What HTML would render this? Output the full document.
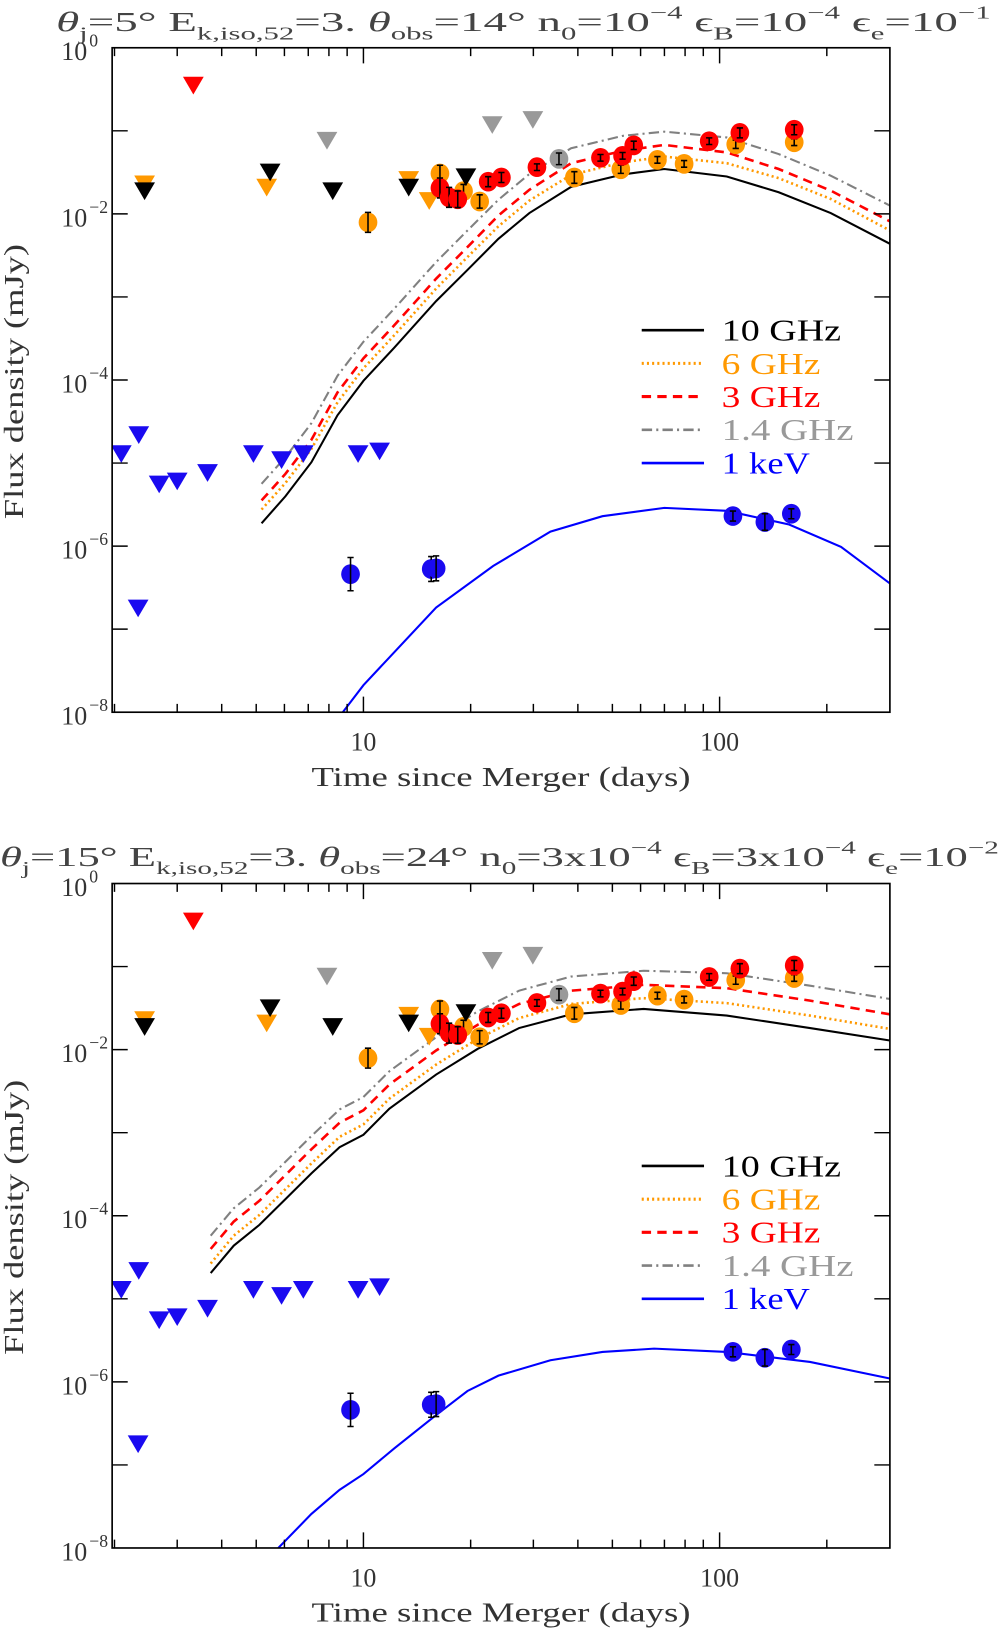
<!DOCTYPE html>
<html><head><meta charset="utf-8"><style>
html,body{margin:0;padding:0;background:#fff;}
svg{display:block;font-family:"Liberation Serif",serif;}
</style></head><body>
<svg id="fig" width="1001" height="1630" viewBox="0 0 964 1570" preserveAspectRatio="none" xmlns="http://www.w3.org/2000/svg">
<defs>
<clipPath id="clip0"><rect x="108" y="46" width="749" height="640"/></clipPath>
<clipPath id="clip1"><rect x="108" y="851" width="749" height="640"/></clipPath>
</defs>
<text x="54" y="30" font-size="26" fill="#444" textLength="900" lengthAdjust="spacingAndGlyphs"><tspan font-style="italic">θ</tspan><tspan font-size="17" dy="8">j</tspan><tspan dy="-8">=5° E</tspan><tspan font-size="17" dy="8">k,iso,52</tspan><tspan dy="-8">=3. </tspan><tspan font-style="italic">θ</tspan><tspan font-size="17" dy="8">obs</tspan><tspan dy="-8">=14° n</tspan><tspan font-size="17" dy="8">0</tspan><tspan dy="-8">=10</tspan><tspan font-size="17" dy="-12">−4</tspan><tspan dy="12"> ϵ</tspan><tspan font-size="17" dy="8">B</tspan><tspan dy="-8">=10</tspan><tspan font-size="17" dy="-12">−4</tspan><tspan dy="12"> ϵ</tspan><tspan font-size="17" dy="8">e</tspan><tspan dy="-8">=10</tspan><tspan font-size="17" dy="-12">−1</tspan></text>
<text x="0" y="834" font-size="26" fill="#444" textLength="962" lengthAdjust="spacingAndGlyphs"><tspan font-style="italic">θ</tspan><tspan font-size="17" dy="8">j</tspan><tspan dy="-8">=15° E</tspan><tspan font-size="17" dy="8">k,iso,52</tspan><tspan dy="-8">=3. </tspan><tspan font-style="italic">θ</tspan><tspan font-size="17" dy="8">obs</tspan><tspan dy="-8">=24° n</tspan><tspan font-size="17" dy="8">0</tspan><tspan dy="-8">=3x10</tspan><tspan font-size="17" dy="-12">−4</tspan><tspan dy="12"> ϵ</tspan><tspan font-size="17" dy="8">B</tspan><tspan dy="-8">=3x10</tspan><tspan font-size="17" dy="-12">−4</tspan><tspan dy="12"> ϵ</tspan><tspan font-size="17" dy="8">e</tspan><tspan dy="-8">=10</tspan><tspan font-size="17" dy="-12">−2</tspan></text>
</svg>
<script>
// ---- observational data (days, mJy) ----
const redLimT=[3.33], redLimF=[0.355];
const orangeLimT=[2.43,5.35,13.4,15.3], orangeLimF=[0.023,0.021,0.026,0.0145];
const blackLimT=[2.43,5.47,8.2,13.4,19.4], blackLimF=[0.019,0.032,0.019,0.021,0.028];
const grayLimT=[7.9,23,29.9], grayLimF=[0.077,0.119,0.137];
const blueLimT=[2.09,2.34,2.67,3.0,3.65,4.91,5.89,6.78,9.66,11.1,2.33];
const blueLimF=[1.3e-5,2.2e-5,5.6e-6,6.1e-6,7.7e-6,1.3e-5,1.1e-5,1.3e-5,1.3e-5,1.4e-5,1.8e-7];
const orangeT=[10.3,16.4,19.1,21.2,39.1,52.8,66.9,79.5,111,162];
const orangeF=[0.0079,0.0306,0.0188,0.0141,0.0274,0.0345,0.0447,0.040,0.0688,0.0729];
const orangeErr=[0.12,0.1,0.08,0.08,0.07,0.05,0.04,0.04,0.05,0.04];
const redT=[16.4,17.4,18.4,22.4,24.4,30.7,46.3,53.4,57.4,93.5,114,162];
const redF=[0.0205,0.0158,0.015,0.0244,0.0274,0.0365,0.0473,0.050,0.0668,0.075,0.0944,0.103];
const redErr=[0.12,0.12,0.1,0.06,0.06,0.04,0.04,0.04,0.05,0.04,0.06,0.06];
const grayT=[35.4], grayF=[0.046], grayErr=[0.07];
const blueT=[9.2,15.5,16.0,109,134,159];
const blueF=[4.6e-7,5.3e-7,5.4e-7,2.3e-6,1.95e-6,2.45e-6];
const blueErr=[0.2,0.15,0.15,0.06,0.1,0.06];
// ---- model curves (log10 days, log10 mJy) ----
const m1LogT=[0.714,0.781,0.854,0.927,1.0,1.087,1.204,1.292,1.379,1.466,1.583,1.729,1.845,2.020,2.166,2.312,2.478];
const m1Ghz10=[-5.725,-5.40,-4.99,-4.425,-4.01,-3.61,-3.05,-2.675,-2.30,-1.99,-1.675,-1.525,-1.46,-1.55,-1.74,-1.99,-2.36];
const m1Ghz6=[-5.56,-5.24,-4.83,-4.27,-3.86,-3.46,-2.90,-2.52,-2.15,-1.84,-1.53,-1.38,-1.31,-1.39,-1.57,-1.82,-2.20];
const m1Ghz3=[-5.45,-5.13,-4.72,-4.15,-3.74,-3.34,-2.78,-2.40,-2.02,-1.71,-1.39,-1.24,-1.17,-1.26,-1.46,-1.72,-2.09];
const m1Ghz14=[-5.25,-4.93,-4.52,-3.95,-3.54,-3.14,-2.58,-2.20,-1.83,-1.52,-1.21,-1.06,-1.01,-1.08,-1.28,-1.54,-1.90];
const m1XLogT=[0.942,1.0,1.073,1.204,1.364,1.525,1.671,1.845,2.020,2.195,2.341,2.478];
const m1Kev=[-8.0,-7.675,-7.34,-6.74,-6.24,-5.825,-5.64,-5.54,-5.575,-5.74,-6.01,-6.45];
const m2LogT=[0.571,0.636,0.708,0.781,0.854,0.933,1.0,1.073,1.204,1.321,1.437,1.583,1.787,2.020,2.254,2.478];
const m2Ghz10=[-4.69,-4.36,-4.11,-3.80,-3.49,-3.175,-3.025,-2.71,-2.30,-1.99,-1.74,-1.575,-1.51,-1.59,-1.74,-1.89];
const m2Ghz6=[-4.575,-4.24,-3.99,-3.68,-3.37,-3.05,-2.90,-2.59,-2.18,-1.87,-1.62,-1.45,-1.38,-1.44,-1.59,-1.75];
const m2Ghz3=[-4.40,-4.07,-3.82,-3.51,-3.20,-2.88,-2.73,-2.42,-2.01,-1.70,-1.45,-1.29,-1.22,-1.26,-1.41,-1.575];
const m2Ghz14=[-4.24,-3.91,-3.66,-3.35,-3.04,-2.72,-2.57,-2.26,-1.85,-1.54,-1.29,-1.12,-1.05,-1.08,-1.23,-1.39];
const m2XLogT=[0.761,0.854,0.933,1.0,1.087,1.204,1.292,1.379,1.525,1.671,1.816,2.020,2.254,2.478];
const m2Kev=[-8.0,-7.59,-7.30,-7.11,-6.80,-6.40,-6.11,-5.925,-5.74,-5.64,-5.60,-5.64,-5.76,-5.96];
const legendLabels=["10 GHz","6 GHz","3 GHz","1.4 GHz","1 keV"];
const xTickLabels=["10","100"];
const yTickExps=["0","−2","−4","−6","−8"];

const NS="http://www.w3.org/2000/svg";
const svg=document.getElementById('fig');
const L=108,R=857,H=640;
function mk(tag,attrs,parent){const e=document.createElementNS(NS,tag);for(const k in attrs)e.setAttribute(k,attrs[k]);(parent||svg).appendChild(e);return e;}
function xs(t){return 350+343*(Math.log10(t)-1);}
function xl(lt){return 350+343*(lt-1);}

function panel(idx,top,curves,xcurve){
  const ys=f=>top-80*Math.log10(f);
  const yl=lf=>top-80*lf;
  const g=mk('g',{});
  
  
  const cg=mk('g',{'clip-path':'url(#clip'+idx+')'},g);
  const styles=[['#000','none',2],['#ff9900','2,3',2.5],['#ff0000','9,6',2.5],['#808080','10,4,2,4',2],['#0000ff','none',2]];
  const names=['curve-10ghz','curve-6ghz','curve-3ghz','curve-1p4ghz','curve-1kev'];
  const series=[[curves[0],curves[1]],[curves[0],curves[2]],[curves[0],curves[3]],[curves[0],curves[4]],[xcurve[0],xcurve[1]]];
  series.forEach((s,i)=>{
    const d=s[0].map((lt,j)=>(j?'L':'M')+xl(lt).toFixed(1)+' '+yl(s[1][j]).toFixed(1)).join(' ');
    const p=mk('path',{d:d,fill:'none',stroke:styles[i][0],'stroke-width':styles[i][2],'stroke-dasharray':styles[i][1]},cg);
    
    
  });
  function tri(T,F,col,nm){T.forEach((t,i)=>{const x=xs(t),y=ys(F[i]);
    const p=mk('polygon',{points:(x-10)+','+(y-8)+' '+(x+10)+','+(y-8)+' '+x+','+(y+9),fill:col},cg);
    
    });}
  function circ(T,F,E,col,nm){T.forEach((t,i)=>{const x=xs(t),y=ys(F[i]);
    const c=mk('ellipse',{cx:x,cy:y,rx:9,ry:9.5,fill:col},cg);
    
    
    const y1=ys(F[i]*Math.pow(10,E[i])),y2=ys(F[i]/Math.pow(10,E[i]));
    const eb=mk('path',{d:'M'+x+' '+y1+'V'+y2+'M'+(x-3)+' '+y1+'h6M'+(x-3)+' '+y2+'h6',stroke:'#000','stroke-width':1.5,fill:'none'},cg);
    
    });}
  tri(redLimT,redLimF,'#ff0000','red-upper-limit');
  tri(orangeLimT,orangeLimF,'#ff9900','orange-upper-limit');
  tri(grayLimT,grayLimF,'#999999','gray-upper-limit');
  tri(blueLimT,blueLimF,'#1a0af0','blue-upper-limit');
  circ(grayT,grayF,grayErr,'#999999','gray-point');
  circ(orangeT,orangeF,orangeErr,'#ff9900','orange-point');
  circ(redT,redF,redErr,'#ff0000','red-point');
  circ(blueT,blueF,blueErr,'#1a0af0','blue-point');
  tri(blackLimT,blackLimF,'#000','black-upper-limit');
  const fr=mk('rect',{x:L,y:top,width:R-L,height:H,fill:'none',stroke:'#000','stroke-width':1.6},g);
  
  
  let d='';
  [2,3,4,5,6,7,8,9,10,20,30,40,50,60,70,80,90,100,200,300].forEach(t=>{const x=xs(t);if(x<L+1||x>R-1)return;
    const len=(t===10||t===100)?15:8;d+='M'+x+' '+(top+H)+'v'+(-len)+'M'+x+' '+top+'v'+len;});
  for(let k=1;k<8;k++){const y=top+80*k;d+='M'+L+' '+y+'h15M'+R+' '+y+'h-15';}
  const tk=mk('path',{d:d,stroke:'#000','stroke-width':1.4,fill:'none'},g);
  
  
  [10,100].forEach((t,i)=>{const tx=mk('text',{x:xs(t),y:top+H+37,'font-size':25,'text-anchor':'middle',fill:'#333'},g);tx.textContent=xTickLabels[i];
    
    });
  yTickExps.forEach((e,i)=>{const tx=mk('text',{x:84,y:top+160*i+12,'font-size':25,'text-anchor':'end',fill:'#333'},g);tx.textContent='10';
    
    
    const sp=mk('text',{x:86,y:top+160*i-1,'font-size':17,fill:'#333'},g);sp.textContent=e;
    
    });
  const xt=mk('text',{x:300,y:top+H+71,'font-size':26,fill:'#333',textLength:365,lengthAdjust:'spacingAndGlyphs'},g);xt.textContent='Time since Merger (days)';
  
  
  const yt=mk('text',{x:0,y:0,'font-size':26,fill:'#333',textLength:265,lengthAdjust:'spacingAndGlyphs',transform:'translate(22,'+(top+454)+') rotate(-90)'},g);yt.textContent='Flux density (mJy)';
  
  
  const lcol=['#000','#ff9900','#ff0000','#999999','#0000ff'];
  const lw=[115,95,95,127,85];
  legendLabels.forEach((lab,i)=>{const y=top+272+32*i;
    const ln=mk('line',{x1:618,x2:678,y1:y,y2:y,stroke:styles[i][0],'stroke-width':styles[i][2]+0.5,'stroke-dasharray':styles[i][1]},g);
    
    
    const tx=mk('text',{x:695,y:y+10,'font-size':29,fill:lcol[i],textLength:lw[i],lengthAdjust:'spacingAndGlyphs'},g);tx.textContent=lab;
    
    });
}
panel(0,46,[m1LogT,m1Ghz10,m1Ghz6,m1Ghz3,m1Ghz14],[m1XLogT,m1Kev]);
panel(1,851,[m2LogT,m2Ghz10,m2Ghz6,m2Ghz3,m2Ghz14],[m2XLogT,m2Kev]);
</script>
</body></html>
